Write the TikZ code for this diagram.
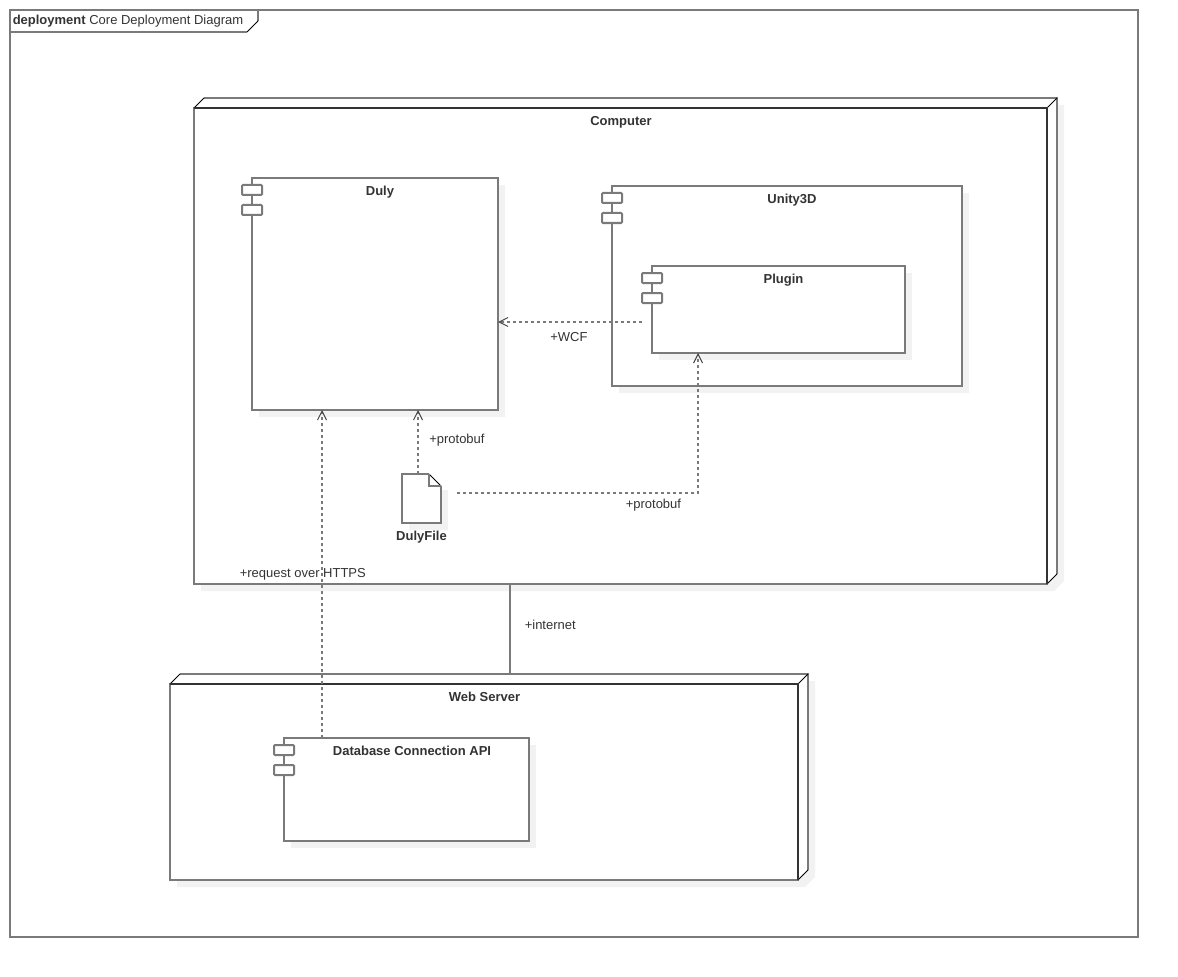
\documentclass[tikz,border=0pt]{standalone}
\usepackage{fontspec}
\setmainfont{Liberation Sans}
\usetikzlibrary{arrows.meta,shadows,calc}
\definecolor{shadecol}{HTML}{F2F2F2}
\definecolor{inkcol}{HTML}{333333}
\definecolor{linecol}{HTML}{7A7A7A}
\tikzset{
  line/.style={draw=linecol,line width=1.5pt},
  diag/.style={draw=black,line width=0.75pt},
  boxbase/.style={line,rectangle,inner sep=0pt,outer sep=0pt,anchor=north west},
  nodeface/.style={boxbase,fill=white},
  compface/.style={boxbase,fill=white,general shadow={draw=none,fill=shadecol,shadow xshift=5.25pt,shadow yshift=-5.25pt}},
  tabbox/.style={boxbase,fill=white,minimum width=15pt,minimum height=7.5pt,rounded corners=0.75pt},
  heavy/.style={draw=inkcol,line width=1.5pt},
  title/.style={font=\fontsize{9.75pt}{11pt}\selectfont\bfseries,text=inkcol,inner sep=0pt,anchor=base},
  tag/.style={font=\fontsize{9.75pt}{11pt}\selectfont,text=inkcol,inner sep=0pt,anchor=base west},
  dep/.style={line,dash pattern=on 2.25pt off 2.25pt,-{Straight Barb[length=6.75pt,width=6.75pt,line width=0.75pt,color=black!75]}},
}
\newcommand{\threed}[5]{% name, x, y, w, h
  \fill[shadecol] (#2+17,#3-3) -- (#2+#4+17,#3-3) -- (#2+#4+17,#3+#5-3) -- (#2+#4+7,#3+#5+7) -- (#2+7,#3+#5+7) -- (#2+7,#3+7) -- cycle;
  \node[nodeface,minimum width=#4*0.75pt,minimum height=#5*0.75pt] (#1) at (#2,#3) {};
  \fill[white] (#1.north west) -- ++(10,-10) -- ++(#4,0) -- ++(0,#5) -- (#1.south east) -- (#1.north east) -- cycle;
  \draw[line] ($(#1.north west)+(10,-10)$) -- ++(#4,0) -- ++(0,#5);
  \draw[diag] (#1.north west) -- ++(10,-10);
  \draw[diag] (#1.north east) -- ++(10,-10);
  \draw[diag] (#1.south east) -- ++(10,-10);
  \draw[heavy] (#1.north west) -- (#1.north east) -- (#1.south east);
}
\begin{document}
\begin{tikzpicture}[x=0.75pt,y=-0.75pt]
\useasboundingbox (0,0) rectangle (1178,977);
% frame
\node[boxbase,minimum width=846pt,minimum height=695.25pt] (frame) at (10,10) {};
\draw[line] (frame.north west) -- ++(248,0) -- ++(0,11);
\draw[diag] ($(frame.north west)+(248,11)$) -- ++(-11,11);
\draw[line] ($(frame.north west)+(237,22)$) -- ++(-237,0);
\node[font=\fontsize{9.75pt}{11pt}\selectfont,text=inkcol,inner sep=0pt,anchor=base west] (frametitle) at (12.5,25) {\textbf{deployment} Core Deployment Diagram};
% computer
\threed{computer}{194}{108}{853}{476}
\node[title] (computerl) at (621,125.5) {Computer};
% web server
\threed{webserver}{170}{684}{628}{196}
\node[title] (webserverl) at (484.5,701) {Web Server};
% components
\node[compface,minimum width=184.5pt,minimum height=174pt] (duly) at (252,178) {};
\node[tabbox] (dulyt1) at (242,185) {};
\node[tabbox] (dulyt2) at (242,205) {};
\node[title] (dulyl) at (380,195.5) {Duly};
\node[compface,minimum width=262.5pt,minimum height=150pt] (unity) at (612,186) {};
\node[tabbox] (unityt1) at (602,193) {};
\node[tabbox] (unityt2) at (602,213) {};
\node[title] (unityl) at (792,203.5) {Unity3D};
\node[compface,minimum width=189.75pt,minimum height=65.25pt] (plugin) at (652,266) {};
\node[tabbox] (plugint1) at (642,273) {};
\node[tabbox] (plugint2) at (642,293) {};
\node[title] (pluginl) at (783.5,283) {Plugin};
\node[compface,minimum width=183.75pt,minimum height=77.25pt] (db) at (284,738) {};
\node[tabbox] (dbt1) at (274,745) {};
\node[tabbox] (dbt2) at (274,765) {};
\node[title] (dbl) at (412,755) {Database Connection API};
% artifact
\fill[shadecol] (409,490) -- (448,490) -- (448,530) -- (409,530) -- cycle;
\node[boxbase,draw=none,minimum width=29.25pt,minimum height=36.75pt] (dulyfile) at (402,474) {};
\fill[white] (dulyfile.north west) -- ++(27,0) -- ++(12,12) -- (dulyfile.south east) -- (dulyfile.south west) -- cycle;
\draw[line] ($(dulyfile.north east)+(0,12)$) -- (dulyfile.south east) -- (dulyfile.south west) -- (dulyfile.north west) -- ++(27,0);
\draw[diag] ($(dulyfile.north west)+(27,0)$) -- ++(12,12);
\draw[line] ($(dulyfile.north west)+(27,0)$) -- ++(0,12) -- ++(12,0);
\node[title] (dulyfilel) at (421.5,540) {DulyFile};
% connectors
\draw[dep] ([xshift=28.5pt]db.north west) -- ([xshift=52.5pt]duly.south west);
\draw[dep] ([xshift=12pt]dulyfile.north west) -- ([xshift=124.5pt]duly.south west);
\draw[dep] ([xshift=12pt,yshift=-14.25pt]dulyfile.north east) -| ([xshift=34.5pt]plugin.south west);
\draw[dep] ([yshift=-36.75pt]plugint1.north west) -- ([yshift=-108pt]duly.north east);
\draw[line] ([xshift=237pt]computer.south west) -- ([xshift=255pt,yshift=7.5pt]webserver.north west);
% labels
\node[tag] (wcf) at (550,341) {+WCF};
\node[tag] (proto1) at (429,443) {+protobuf};
\node[tag] (proto2) at (625.5,508) {+protobuf};
\node[tag] (https) at (239.5,577) {+request over HTTPS};
\node[tag] (inet) at (524.5,629) {+internet};
\end{tikzpicture}
\end{document}
